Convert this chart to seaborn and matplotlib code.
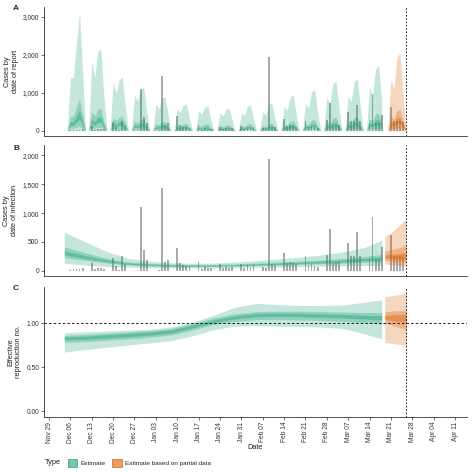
import numpy as np
import pandas as pd
import matplotlib
matplotlib.use("Agg")
import matplotlib.pyplot as plt
from matplotlib.patches import Patch
import seaborn as sns

# daily axis, Fri Dec 04 2020 - Fri Mar 26 2021 (rows below run Fri..Thu)
dates = pd.date_range("2020-12-04", "2021-03-26", freq="D")
n_est = 105  # Dec 04 - Mar 18 is "Estimate", the rest is partial data
last_date = pd.Timestamp("2021-03-26")

# observed reported cases (grey bars, panels A and B)
obs = [
    0, 0, 20, 25, 30, 30, 45,
    0, 0, 130, 25, 45, 45, 35,
    0, 0, 230, 90, 20, 250, 120,
    0, 0, 10, 10, 1100, 360, 190,
    0, 0, 0, 20, 1430, 160, 190,
    0, 0, 400, 140, 100, 90, 80,
    0, 0, 160, 30, 60, 40, 50,
    0, 0, 110, 40, 60, 50, 60,
    0, 0, 115, 40, 100, 60, 100,
    0, 0, 70, 40, 1930, 110, 100,
    0, 0, 305, 130, 150, 130, 110,
    0, 0, 260, 100, 120, 90, 70,
    0, 0, 275, 720, 140, 160, 150,
    0, 0, 490, 250, 250, 670, 250,
    0, 0, 200, 940, 200, 200, 420,
    0, 0, 620, 260, 250, 250, 240,
    0,
]

# panel A: cases by date of report, credible intervals (lower 90% bound is 0)
rep_hi90 = [
    0, 0, 1400, 1400, 2300, 3100, 1550,
    0, 0, 1830, 1400, 2100, 2150, 900,
    0, 0, 1270, 1000, 1350, 1410, 650,
    0, 0, 930, 780, 1100, 1150, 520,
    0, 0, 700, 580, 860, 900, 420,
    0, 0, 580, 480, 680, 710, 340,
    0, 0, 520, 430, 620, 660, 300,
    0, 0, 470, 390, 570, 600, 280,
    0, 0, 470, 400, 640, 680, 310,
    0, 0, 500, 420, 690, 730, 330,
    0, 0, 640, 530, 900, 950, 430,
    0, 0, 720, 600, 1020, 1080, 490,
    0, 0, 870, 720, 1240, 1300, 590,
    0, 0, 920, 760, 1300, 1370, 620,
    0, 0, 1150, 950, 1620, 1710, 780,
    0, 0, 1340, 1100, 1950, 2040, 930,
    0,
]
rep_hi50 = [
    0, 0, 380, 380, 620, 840, 420,
    0, 0, 490, 380, 570, 580, 240,
    0, 0, 340, 270, 360, 380, 180,
    0, 0, 250, 210, 300, 310, 140,
    0, 0, 190, 160, 230, 240, 110,
    0, 0, 160, 130, 180, 190, 90,
    0, 0, 140, 120, 170, 180, 80,
    0, 0, 130, 110, 150, 160, 80,
    0, 0, 130, 110, 170, 180, 80,
    0, 0, 140, 110, 190, 200, 90,
    0, 0, 170, 140, 240, 260, 120,
    0, 0, 190, 160, 280, 290, 130,
    0, 0, 230, 190, 330, 350, 160,
    0, 0, 250, 210, 350, 370, 170,
    0, 0, 310, 260, 440, 460, 210,
    0, 0, 360, 300, 530, 550, 250,
    0,
]
rep_lo50 = [
    0, 0, 60, 60, 90, 120, 60,
    0, 0, 70, 60, 80, 90, 40,
    0, 0, 50, 40, 50, 60, 30,
    0, 0, 40, 30, 40, 50, 20,
    0, 0, 30, 20, 30, 40, 20,
    0, 0, 20, 20, 30, 30, 10,
    0, 0, 20, 20, 30, 30, 10,
    0, 0, 20, 20, 20, 30, 10,
    0, 0, 20, 20, 30, 30, 10,
    0, 0, 20, 20, 30, 30, 10,
    0, 0, 30, 20, 40, 40, 20,
    0, 0, 30, 20, 40, 40, 20,
    0, 0, 30, 30, 50, 50, 20,
    0, 0, 40, 30, 50, 50, 20,
    0, 0, 50, 40, 60, 70, 30,
    0, 0, 50, 40, 80, 80, 40,
    0,
]
rep_hi20 = [
    0, 0, 240, 240, 390, 530, 260,
    0, 0, 310, 240, 360, 370, 150,
    0, 0, 220, 170, 230, 240, 110,
    0, 0, 160, 130, 190, 200, 90,
    0, 0, 120, 100, 150, 150, 70,
    0, 0, 100, 80, 120, 120, 60,
    0, 0, 90, 70, 110, 110, 50,
    0, 0, 80, 70, 100, 100, 50,
    0, 0, 80, 70, 110, 120, 50,
    0, 0, 90, 70, 120, 120, 60,
    0, 0, 110, 90, 150, 160, 70,
    0, 0, 120, 100, 170, 180, 80,
    0, 0, 150, 120, 210, 220, 100,
    0, 0, 160, 130, 220, 230, 110,
    0, 0, 200, 160, 280, 290, 130,
    0, 0, 230, 190, 330, 350, 160,
    0,
]
rep_lo20 = [
    0, 0, 140, 140, 230, 310, 150,
    0, 0, 180, 140, 210, 220, 90,
    0, 0, 130, 100, 140, 140, 70,
    0, 0, 90, 80, 110, 120, 50,
    0, 0, 70, 60, 90, 90, 40,
    0, 0, 60, 50, 70, 70, 30,
    0, 0, 50, 40, 60, 70, 30,
    0, 0, 50, 40, 60, 60, 30,
    0, 0, 50, 40, 60, 70, 30,
    0, 0, 50, 40, 70, 70, 30,
    0, 0, 60, 50, 90, 100, 40,
    0, 0, 70, 60, 100, 110, 50,
    0, 0, 90, 70, 120, 130, 60,
    0, 0, 90, 80, 130, 140, 60,
    0, 0, 120, 100, 160, 170, 80,
    0, 0, 130, 110, 200, 200, 90,
    0,
]

# panels B and C: smooth estimates read off at weekly knots
est_dates = pd.to_datetime([
    "2020-12-04", "2020-12-11", "2020-12-18", "2020-12-25", "2021-01-01",
    "2021-01-08", "2021-01-15", "2021-01-22", "2021-01-29", "2021-02-05",
    "2021-02-12", "2021-02-19", "2021-02-26", "2021-03-05", "2021-03-12",
    "2021-03-18"])
part_dates = pd.to_datetime(["2021-03-19", "2021-03-21", "2021-03-23", "2021-03-26"])

inf_lo90 = [130, 100, 75, 62, 55, 50, 48, 50, 55, 62, 68, 74, 80, 86, 92, 95]
inf_hi90 = [670, 500, 330, 215, 165, 140, 130, 135, 150, 175, 205, 235, 275, 325, 400, 530]
inf_lo50 = [230, 180, 135, 100, 85, 76, 72, 74, 80, 90, 100, 110, 120, 133, 148, 162]
inf_hi50 = [415, 310, 215, 155, 128, 115, 108, 110, 120, 135, 150, 168, 188, 212, 245, 285]
inf_lo20 = [280, 212, 156, 115, 96, 87, 81, 83, 90, 101, 112, 124, 137, 153, 172, 195]
inf_hi20 = [345, 260, 187, 136, 114, 103, 96, 98, 107, 120, 133, 148, 165, 186, 212, 240]
inf_p_lo90 = [120, 105, 95, 80]
inf_p_hi90 = [590, 660, 750, 900]
inf_p_lo50 = [175, 170, 160, 150]
inf_p_hi50 = [340, 365, 390, 440]
inf_p_lo20 = [215, 212, 208, 200]
inf_p_hi20 = [275, 285, 295, 315]

r_lo90 = [0.67, 0.70, 0.725, 0.75, 0.775, 0.80, 0.855, 0.925, 0.965, 0.97, 0.962, 0.96, 0.955, 0.94, 0.88, 0.82]
r_hi90 = [0.89, 0.90, 0.91, 0.92, 0.93, 0.955, 1.01, 1.09, 1.18, 1.225, 1.21, 1.20, 1.20, 1.205, 1.235, 1.265]
r_lo50 = [0.78, 0.79, 0.805, 0.82, 0.84, 0.865, 0.92, 0.985, 1.02, 1.04, 1.04, 1.035, 1.03, 1.02, 1.005, 0.99]
r_hi50 = [0.86, 0.87, 0.885, 0.90, 0.915, 0.94, 0.995, 1.06, 1.105, 1.13, 1.135, 1.135, 1.13, 1.125, 1.12, 1.12]
r_lo20 = [0.81, 0.815, 0.83, 0.845, 0.862, 0.888, 0.944, 1.005, 1.048, 1.072, 1.076, 1.072, 1.066, 1.058, 1.046, 1.036]
r_hi20 = [0.845, 0.85, 0.868, 0.883, 0.898, 0.922, 0.977, 1.037, 1.082, 1.108, 1.114, 1.11, 1.104, 1.098, 1.09, 1.085]
r_p_lo90 = [0.78, 0.77, 0.76, 0.75]
r_p_hi90 = [1.30, 1.31, 1.32, 1.34]
r_p_lo50 = [1.00, 0.98, 0.96, 0.93]
r_p_hi50 = [1.13, 1.135, 1.14, 1.14]
r_p_lo20 = [1.04, 1.03, 1.02, 1.01]
r_p_hi20 = [1.09, 1.09, 1.095, 1.10]

type_labels = ["Estimate", "Estimate based on partial data"]
week_ticks = pd.date_range("2020-11-29", "2021-04-11", freq="7D")

sns.set_theme(style="ticks")
plt.rcParams["font.family"] = ["Liberation Sans", "DejaVu Sans"]
green, orange = sns.color_palette("Dark2")[:2]
alphas = [0.25, 0.3, 0.4]
bar_col = "#9a9a9a"
ink = "#333333"


def ribbons(ax, x, bands, color):
    for (lo, hi), a in zip(bands, alphas):
        ax.fill_between(x, lo, hi, color=color, alpha=a, lw=0, zorder=2)


fig = plt.figure(figsize=(4.74, 4.74), dpi=100)
W = 474.0
rects = [(7, 136), (145, 276), (287, 417)]
axes = [fig.add_axes([44 / W, 1 - b / W, (467 - 44) / W, (b - t) / W]) for t, b in rects]
ax_a, ax_b, ax_c = axes

obs = np.array(obs)
zeros = np.zeros(len(dates))

# panel A
ax_a.bar(dates, obs, width=0.6, color=bar_col, alpha=0.85, lw=0, zorder=1)
for sl, col in [(slice(0, n_est), green), (slice(n_est, None), orange)]:
    ribbons(ax_a, dates[sl],
            [(zeros[sl], np.array(rep_hi90)[sl]),
             (np.array(rep_lo50)[sl], np.array(rep_hi50)[sl]),
             (np.array(rep_lo20)[sl], np.array(rep_hi20)[sl])], col)
ax_a.set_ylim(-140, 3260)
ax_a.set_yticks([0, 1000, 2000, 3000])
ax_a.set_yticklabels(["0", "1,000", "2,000", "3,000"])
ax_a.set_ylabel("Cases by\ndate of report")

# panel B
ax_b.bar(dates, obs, width=0.6, color=bar_col, alpha=0.85, lw=0, zorder=1)
ribbons(ax_b, est_dates, [(inf_lo90, inf_hi90), (inf_lo50, inf_hi50), (inf_lo20, inf_hi20)], green)
ribbons(ax_b, part_dates, [(inf_p_lo90, inf_p_hi90), (inf_p_lo50, inf_p_hi50),
                           (inf_p_lo20, inf_p_hi20)], orange)
ax_b.set_ylim(-90, 2180)
ax_b.set_yticks([0, 500, 1000, 1500, 2000])
ax_b.set_yticklabels(["0", "500", "1,000", "1,500", "2,000"])
ax_b.set_ylabel("Cases by\ndate of infection")

# panel C
ribbons(ax_c, est_dates, [(r_lo90, r_hi90), (r_lo50, r_hi50), (r_lo20, r_hi20)], green)
ribbons(ax_c, part_dates, [(r_p_lo90, r_p_hi90), (r_p_lo50, r_p_hi50), (r_p_lo20, r_p_hi20)], orange)
ax_c.axhline(1.0, color="black", ls=(0, (3, 2.5)), lw=0.6, zorder=3)
ax_c.set_ylim(-0.068, 1.41)
ax_c.set_yticks([0, 0.5, 1.0])
ax_c.set_yticklabels(["0.00", "0.50", "1.00"])
ax_c.set_ylabel("Effective\nreproduction no.")
ax_c.set_xlabel("Date", fontsize=5.3, labelpad=1, color="#222222")

xmin = pd.Timestamp("2020-11-29") - pd.Timedelta(days=1.64)
xmax = pd.Timestamp("2021-04-11") + pd.Timedelta(days=3.93)
for ax in axes:
    ax.axvline(last_date, color="black", ls=(0, (2, 2)), lw=0.6, zorder=3)
    ax.set_xlim(xmin, xmax)
    ax.set_xticks(week_ticks)
    sns.despine(ax=ax)
    for s in ["left", "bottom"]:
        ax.spines[s].set_linewidth(0.6)
        ax.spines[s].set_color(ink)
    ax.tick_params(axis="y", labelsize=4.8, length=2, width=0.5, pad=1.5, colors=ink)
    ax.yaxis.label.set_size(5.3)
    ax.yaxis.label.set_color("#222222")
    ax.yaxis.labelpad = 3
    ax.set_facecolor("white")

for ax in [ax_a, ax_b]:
    ax.tick_params(axis="x", length=0, labelbottom=False)
ax_c.set_xticklabels([d.strftime("%b %d") for d in week_ticks], rotation=90)
ax_c.tick_params(axis="x", labelsize=4.8, length=2, width=0.5, pad=1.5, colors=ink)

for lab, y in [("A", 8), ("B", 148), ("C", 289)]:
    fig.text(13 / W, 1 - y / W, lab, fontsize=6, fontweight="bold", va="center")

# legend
fig.text(45 / W, 1 - 463 / W, "Type", fontsize=5.3, va="center", color="#222222")
handles = [Patch(facecolor=(*green, 0.6), edgecolor=(*green, 0.9), lw=0.5),
           Patch(facecolor=(*orange, 0.6), edgecolor=(*orange, 0.9), lw=0.5)]
fig.legend(handles, type_labels, loc="center left", bbox_to_anchor=(62 / W, 1 - 463 / W),
           ncol=2, frameon=False, fontsize=4.6, handlelength=1.5, handleheight=1.5,
           handletextpad=0.5, columnspacing=1.0, labelcolor="#222222")

fig.savefig("out.png", dpi=100, facecolor="white")
